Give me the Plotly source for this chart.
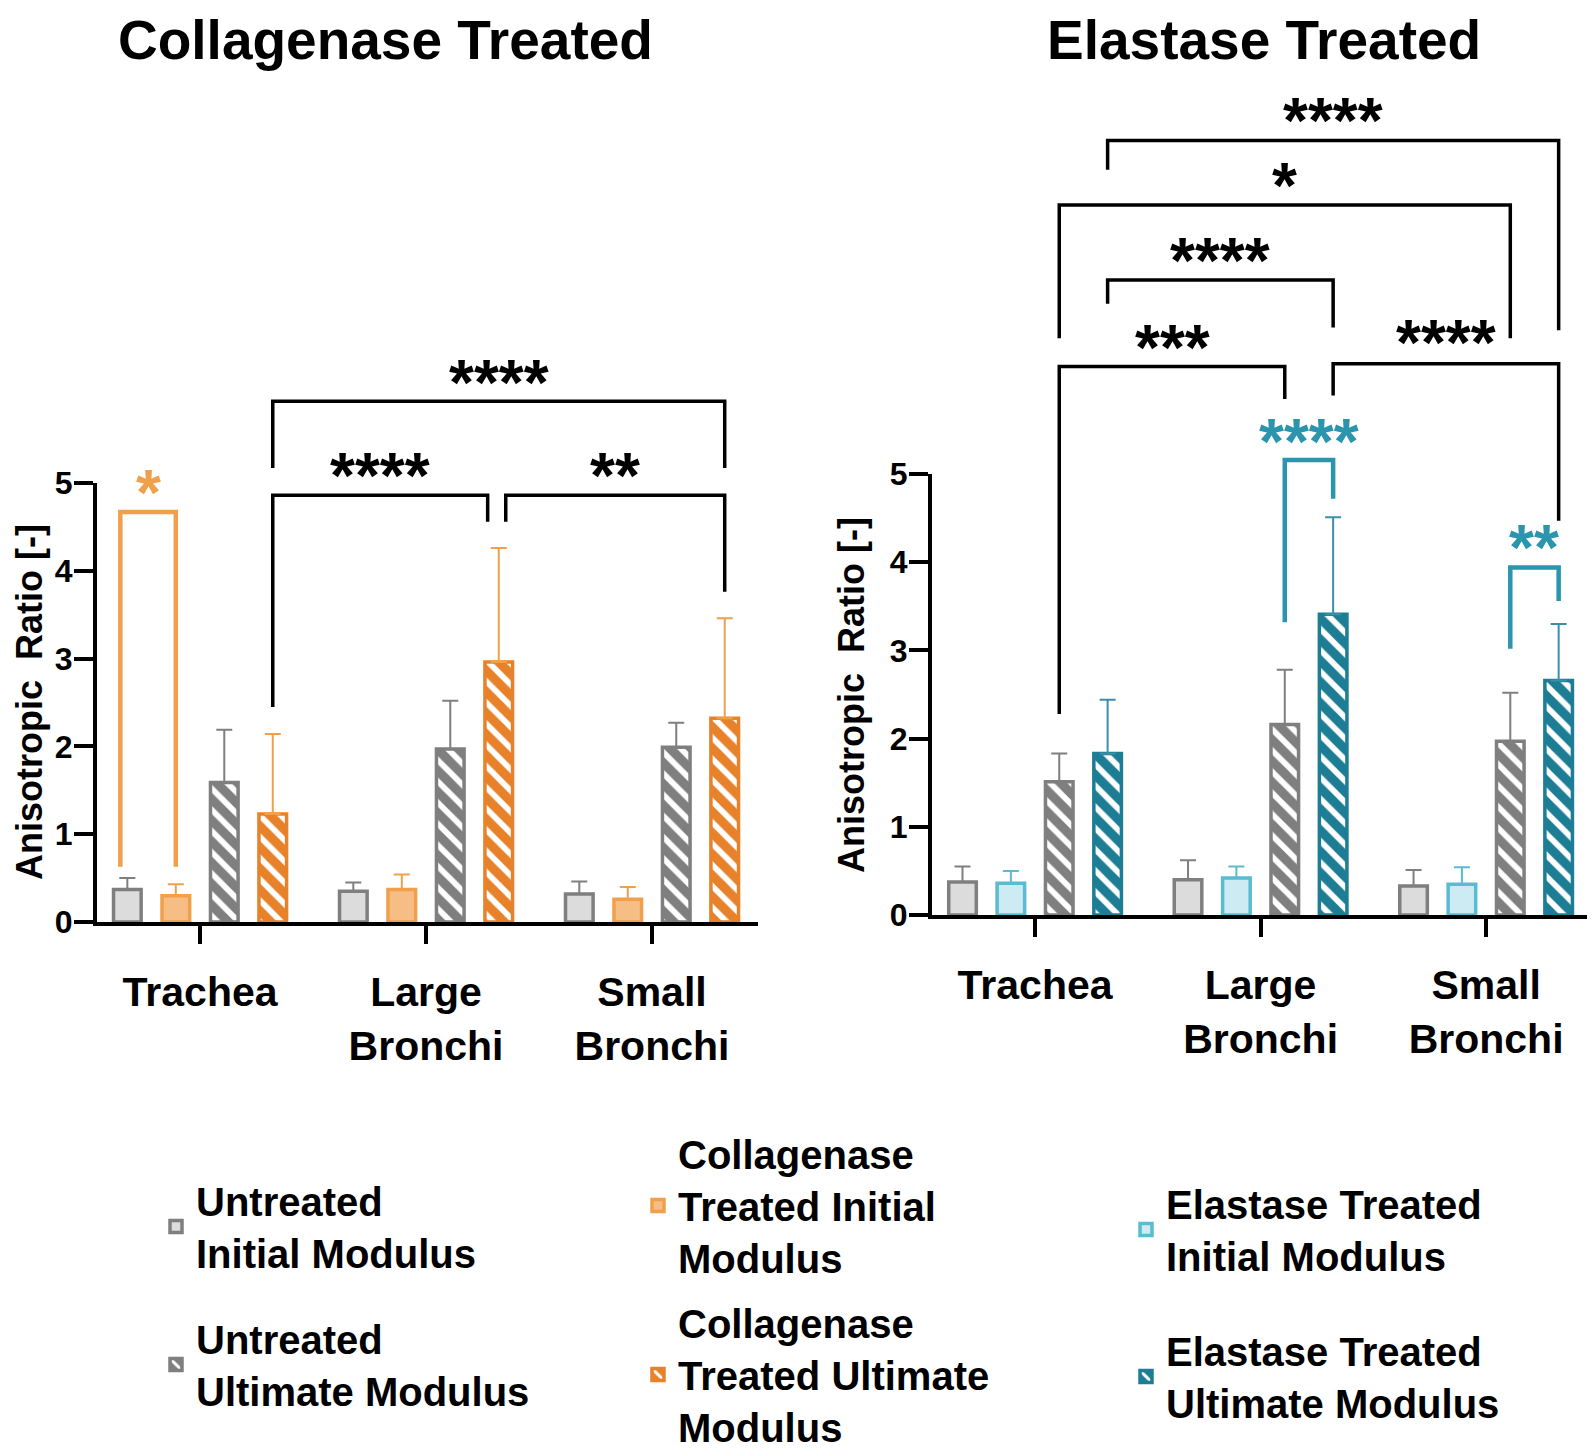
import plotly.graph_objects as go

# ---------------- data ----------------
categories = ["Trachea", "Large<br>Bronchi", "Small<br>Bronchi"]

# Collagenase panel (means and upper SD)
untreated_init_c = [0.37, 0.35, 0.32]
untreated_init_c_sd = [0.13, 0.10, 0.14]
collagenase_init = [0.30, 0.37, 0.26]
collagenase_init_sd = [0.13, 0.17, 0.14]
untreated_ult_c = [1.59, 1.97, 1.99]
untreated_ult_c_sd = [0.60, 0.55, 0.28]
collagenase_ult = [1.23, 2.96, 2.32]
collagenase_ult_sd = [0.91, 1.30, 1.14]

# Elastase panel
untreated_init_e = [0.375, 0.40, 0.33]
untreated_init_e_sd = [0.175, 0.22, 0.18]
elastase_init = [0.36, 0.42, 0.35]
elastase_init_sd = [0.14, 0.13, 0.19]
untreated_ult_e = [1.51, 2.16, 1.97]
untreated_ult_e_sd = [0.32, 0.62, 0.55]
elastase_ult = [1.83, 3.41, 2.66]
elastase_ult_sd = [0.61, 1.10, 0.64]

y_ticks = [0, 1, 2, 3, 4, 5]

# significance brackets: (cat_a, bar_a, nudge_a, cat_b, bar_b, nudge_b, height, foot_a, foot_b, label, star_y, color)
brackets_c = [
    (0, 0, -0.031, 0, 1, 0.0, 4.67, 0.63, 0.63, "*", 5.00, "orange"),
    (0, 3, 0.0, 1, 3, -0.049, 4.86, 2.45, 4.56, "****", 5.19, "black"),
    (1, 3, 0.031, 2, 3, 0.0, 4.86, 4.56, 3.76, "**", 5.19, "black"),
    (0, 3, 0.0, 2, 3, 0.0, 5.93, 5.17, 5.17, "****", 6.25, "black"),
]
brackets_e = [
    (1, 2, 0.0, 1, 3, 0.0, 5.16, 3.32, 4.72, "****", 5.48, "teal"),
    (2, 2, 0.0, 2, 3, 0.0, 3.94, 3.02, 3.56, "**", 4.27, "teal"),
    (0, 2, 0.0, 1, 2, 0.0, 6.22, 2.28, 5.85, "***", 6.54, "black"),
    (1, 3, 0.0, 2, 3, 0.0, 6.25, 5.89, 4.47, "****", 6.60, "black"),
    (0, 3, 0.0, 1, 3, 0.0, 7.20, 6.93, 6.66, "****", 7.53, "black"),
    (0, 2, 0.0, 2, 2, 0.0, 8.05, 6.54, 6.54, "*", 8.38, "black"),
    (0, 3, 0.0, 2, 3, 0.0, 8.78, 8.45, 6.63, "****", 9.11, "black"),
]

# ---------------- layout helpers ----------------
FONT = "Liberation Sans, Arial, sans-serif"
PAGE_OFF = 8                       # default body margin of the html page
W, H = 1595 - PAGE_OFF, 1456 - PAGE_OFF


def fx(px):
    return (px - PAGE_OFF) / W


def fy(py):
    return 1 - (py - PAGE_OFF) / H


BARGAP = 0.142
BARGROUPGAP = 0.43
NBARS = 4
YMAX = 5.0
STAR_SIZE = 64

GRAY_FILL, GRAY_LINE = "#dcdcdc", "#7f7f7f"
ORANGE_FILL, ORANGE_LINE = "#f6bd85", "#f0a04b"
ORANGE_DARK = "#e8822a"
CYAN_FILL, CYAN_LINE = "#cdebf3", "#5bbbd0"
TEAL_DARK = "#1d7d95"
SIG_COLORS = {"black": "black", "orange": "#f0a04b", "teal": "#2b95ae"}

fig = go.Figure()


def add_bar(name, y, sd, xa, ya, fill, line, err_color, hatched, legend, show):
    pattern = dict(shape="\\", fgcolor="white", bgcolor=fill, size=15,
                   solidity=0.38, fillmode="replace") if hatched else dict(shape="")
    fig.add_trace(go.Bar(
        name=name, x=categories, y=y, xaxis=xa, yaxis=ya,
        marker=dict(color=fill, line=dict(color=line, width=3.5), pattern=pattern),
        error_y=dict(type="data", array=sd, arrayminus=[0] * len(sd), symmetric=False,
                     color=err_color, thickness=2, width=8),
        legend=legend, legendgroup=name + xa, showlegend=show,
    ))


# Collagenase panel
add_bar("Untreated<br>Initial Modulus", untreated_init_c, untreated_init_c_sd, "x", "y",
        GRAY_FILL, GRAY_LINE, GRAY_LINE, False, "legend", True)
add_bar("Collagenase<br>Treated Initial<br>Modulus", collagenase_init, collagenase_init_sd, "x", "y",
        ORANGE_FILL, ORANGE_LINE, ORANGE_LINE, False, "legend2", True)
add_bar("Untreated<br>Ultimate Modulus", untreated_ult_c, untreated_ult_c_sd, "x", "y",
        GRAY_LINE, GRAY_LINE, GRAY_LINE, True, "legend", True)
add_bar("Collagenase<br>Treated Ultimate<br>Modulus", collagenase_ult, collagenase_ult_sd, "x", "y",
        ORANGE_DARK, ORANGE_DARK, ORANGE_LINE, True, "legend2", True)

# Elastase panel
add_bar("Untreated<br>Initial Modulus", untreated_init_e, untreated_init_e_sd, "x2", "y2",
        GRAY_FILL, GRAY_LINE, GRAY_LINE, False, "legend", False)
add_bar("Elastase Treated<br>Initial Modulus", elastase_init, elastase_init_sd, "x2", "y2",
        CYAN_FILL, CYAN_LINE, CYAN_LINE, False, "legend3", True)
add_bar("Untreated<br>Ultimate Modulus", untreated_ult_e, untreated_ult_e_sd, "x2", "y2",
        GRAY_LINE, GRAY_LINE, GRAY_LINE, True, "legend", False)
add_bar("Elastase Treated<br>Ultimate Modulus", elastase_ult, elastase_ult_sd, "x2", "y2",
        TEAL_DARK, TEAL_DARK, "#3a90a6", True, "legend3", True)


def bar_x(cat, idx, nudge):
    slot = (1 - BARGAP) / NBARS
    return cat - (1 - BARGAP) / 2 + slot * (idx + 0.5) + nudge


shapes, annotations = [], []
for brs, xr, yr in ((brackets_c, "x", "y domain"), (brackets_e, "x2", "y2 domain")):
    for ca, ba, na, cb, bb, nb, h, fa, fb, lab, sy, col in brs:
        xa_, xb_ = bar_x(ca, ba, na), bar_x(cb, bb, nb)
        c = SIG_COLORS[col]
        lw = 3.5 if col == "black" else 4.5
        shapes.append(dict(
            type="path", xref=xr, yref=yr,
            path=f"M{xa_},{fa / YMAX} L{xa_},{h / YMAX} L{xb_},{h / YMAX} L{xb_},{fb / YMAX}",
            line=dict(color=c, width=lw)))
        annotations.append(dict(
            x=(xa_ + xb_) / 2, y=sy / YMAX, xref=xr, yref=yr, text=lab, showarrow=False,
            xanchor="center", yanchor="middle", yshift=-10,
            font=dict(size=STAR_SIZE, color=c, family=FONT, weight="bold")))

# panel titles
for txt, xc in (("Collagenase Treated", 385), ("Elastase Treated", 1264)):
    annotations.append(dict(text=txt, x=fx(xc), y=1, xref="paper", yref="paper", borderpad=0,
                            showarrow=False, xanchor="center", yanchor="top",
                            font=dict(size=55, family=FONT, color="black", weight="bold")))

# y-axis titles
for xc, yr in ((PAGE_OFF, "y domain"), (830, "y2 domain")):
    annotations.append(dict(text="Anisotropic\u00a0 Ratio [-]", x=fx(xc), y=0.5, xref="paper", yref=yr,
                            showarrow=False, textangle=-90, xanchor="left", yanchor="middle",
                            borderpad=0,
                            font=dict(size=36, family=FONT, color="black", weight="bold")))

xax = dict(showline=True, linewidth=4, linecolor="black", ticks="outside", ticklen=18, tickwidth=4,
           tickcolor="black", showgrid=False, zeroline=False, ticklabelstandoff=13,
           tickfont=dict(size=41, family=FONT, color="black", weight="bold"))
yax = dict(showline=True, linewidth=4, linecolor="black", ticks="outside", ticklen=19, tickwidth=4,
           tickcolor="black", showgrid=False, zeroline=False, range=[0, YMAX], tickvals=y_ticks,
           ticklabelstandoff=-5,
           tickfont=dict(size=32, family=FONT, color="black", weight="bold"))

legend_common = dict(xanchor="left", yanchor="top", bgcolor="rgba(0,0,0,0)", valign="middle",
                     font=dict(size=40, family=FONT, color="black", weight="bold"))

fig.update_layout(
    width=W, height=H, margin=dict(l=0, r=0, t=0, b=0, autoexpand=False),
    paper_bgcolor="white", plot_bgcolor="white",
    barmode="group", bargap=BARGAP, bargroupgap=BARGROUPGAP,
    font=dict(family=FONT, color="black"),
    xaxis=dict(xax, domain=[fx(97), fx(758)], range=[-0.456, 2.469], anchor="y"),
    yaxis=dict(yax, domain=[fy(922), fy(483)], anchor="x"),
    xaxis2=dict(xax, domain=[fx(932), fx(1593)], range=[-0.457, 2.474], anchor="y2"),
    yaxis2=dict(yax, domain=[fy(915), fy(474)], anchor="x2"),
    legend=dict(legend_common, x=fx(156), y=fy(1168), tracegroupgap=31),
    legend2=dict(legend_common, x=fx(638), y=fy(1121), tracegroupgap=10),
    legend3=dict(legend_common, x=fx(1126), y=fy(1171), tracegroupgap=40),
    shapes=shapes, annotations=annotations,
)

fig.write_html("out.html")
